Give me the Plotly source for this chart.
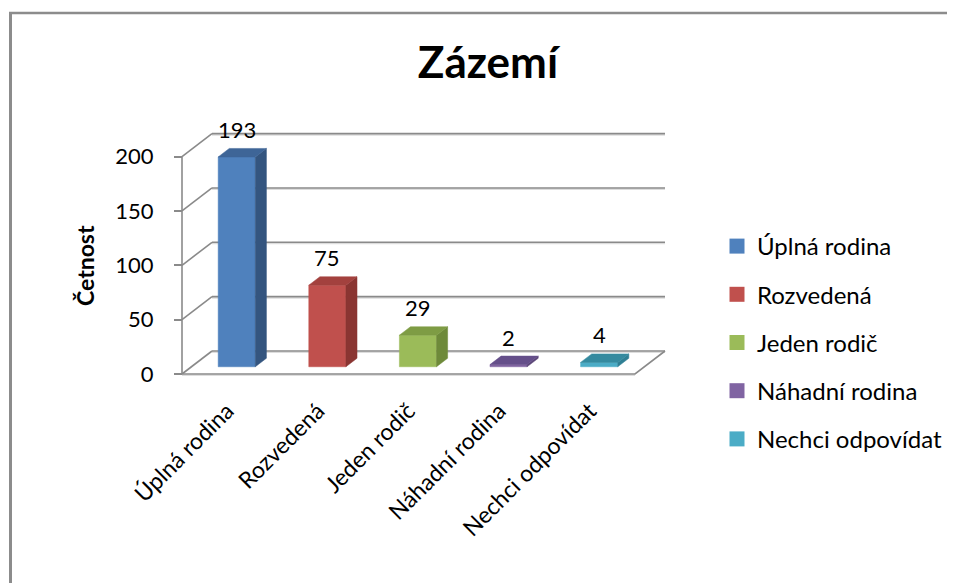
import plotly.graph_objects as go

# ---------------- data ----------------
categories = ["Úplná rodina", "Rozvedená", "Jeden rodič", "Náhadní rodina", "Nechci odpovídat"]
values = [193, 75, 29, 2, 4]
y_ticks = [0, 50, 100, 150, 200]
title_text = "Zázemí"
y_title = "Četnost"

front_colors = ["#4F81BD", "#C0504D", "#9BBB59", "#8064A2", "#4BACC6"]
side_colors = ["#34557F", "#8A3532", "#6E8A3A", "#5A4577", "#2F7F94"]
top_colors = ["#3E6597", "#A3413E", "#7E9C44", "#654F8A", "#358A9F"]

# ---------------- geometry / layout constants (reference pixel coords) ----------------
W, H = 955, 583
OFF = 8                                        # page body margin
PL, PR, PT, PB = 170, 700, 118, 380            # plot area in pixels
X0PX, Y0PX = 182, 374                          # pixel of (x=-0.5, y=0) front corner
PX_PER_X = 90.6
PX_PER_Y = 1.087
DX = 30 / PX_PER_X                              # depth offset in x units
DY = 23 / PX_PER_Y                              # depth offset in y units
BAR_W = 0.41
ZF, ZB = 0.315, 0.685                           # bar front/back depth fraction

xmin = -0.5 - (X0PX - PL) / PX_PER_X
xmax = -0.5 + (PR - X0PX) / PX_PER_X
ymin = -(PB - Y0PX) / PX_PER_Y
ymax = (Y0PX - PT) / PX_PER_Y


def paper_x(px):
    return (px - PL) / (PR - PL)


def paper_y(py):
    return (PB - py) / (PB - PT)


GRID = "#8A8A8A"
n = len(categories)
xl_floor, xr_floor = -0.5, n - 0.5

fig = go.Figure()


def add_line(xs, ys, color=GRID, width=1.6):
    fig.add_trace(go.Scatter(x=xs, y=ys, mode="lines", line=dict(color=color, width=width),
                             hoverinfo="skip", showlegend=False))


# back wall gridlines + left wall diagonals
for t in y_ticks:
    add_line([xl_floor + DX, xr_floor + DX], [t + DY - 1.2, t + DY - 1.2], color="#DDDDDD", width=1.5)
    add_line([xl_floor + DX, xr_floor + DX], [t + DY, t + DY])
    add_line([xl_floor, xl_floor + DX], [t, t + DY])
# front left vertical
add_line([xl_floor, xl_floor], [0, y_ticks[-1]])
# floor outline
add_line([xl_floor, xr_floor], [-1.2, -1.2], color="#DDDDDD", width=1.5)
add_line([xl_floor, xr_floor, xr_floor + DX], [0, 0, DY])

# bars
for i, (v, cf, cs, ct) in enumerate(zip(values, front_colors, side_colors, top_colors)):
    xl = i - BAR_W / 2
    xr = i + BAR_W / 2
    # front face
    fx = [xl + ZF * DX, xr + ZF * DX, xr + ZF * DX, xl + ZF * DX, xl + ZF * DX]
    fy = [ZF * DY, ZF * DY, v + ZF * DY, v + ZF * DY, ZF * DY]
    fig.add_trace(go.Scatter(x=fx, y=fy, fill="toself", fillcolor=cf, mode="lines",
                             line=dict(color=cf, width=0.5), hoverinfo="skip", showlegend=False))
    # side face
    sx = [xr + ZF * DX, xr + ZB * DX, xr + ZB * DX, xr + ZF * DX, xr + ZF * DX]
    sy = [ZF * DY, ZB * DY, v + ZB * DY, v + ZF * DY, ZF * DY]
    fig.add_trace(go.Scatter(x=sx, y=sy, fill="toself", fillcolor=cs, mode="lines",
                             line=dict(color=cs, width=0.5), hoverinfo="skip", showlegend=False))
    # top face
    tx = [xl + ZF * DX, xr + ZF * DX, xr + ZB * DX, xl + ZB * DX, xl + ZF * DX]
    ty = [v + ZF * DY, v + ZF * DY, v + ZB * DY, v + ZB * DY, v + ZF * DY]
    fig.add_trace(go.Scatter(x=tx, y=ty, fill="toself", fillcolor=ct, mode="lines",
                             line=dict(color=ct, width=0.5), hoverinfo="skip", showlegend=False))
    # data label
    fig.add_annotation(x=i + ZF * DX, y=v + ZB * DY, text=str(v), showarrow=False,
                       yshift=19, yanchor="middle", xanchor="center",
                       font=dict(size=22, color="#000000"))

# legend entries
for i, (name, c) in enumerate(zip(categories, front_colors)):
    fig.add_trace(go.Scatter(x=[None], y=[None], mode="markers", name=name,
                             marker=dict(symbol="square", size=15, color=c, line=dict(width=0)),
                             legendgroup="g%d" % i))

# frame decoration
fig.add_shape(type="line", xref="paper", yref="paper",
              x0=paper_x(10.5), x1=paper_x(10.5), y0=paper_y(12), y1=paper_y(H + OFF + 4),
              line=dict(color="#8C8C8C", width=3))
fig.add_shape(type="line", xref="paper", yref="paper",
              x0=paper_x(9), x1=paper_x(W + OFF + 4), y0=paper_y(13), y1=paper_y(13),
              line=dict(color="#8C8C8C", width=2.5))

# y axis title
fig.add_annotation(xref="paper", yref="paper", x=paper_x(85), y=paper_y(266),
                   text="<b>%s</b>" % y_title, textangle=-90, showarrow=False,
                   xanchor="center", yanchor="middle", font=dict(size=23, color="#000000"))

FONT = "Lato, 'Noto Sans', sans-serif"
fig.update_layout(
    width=W, height=H,
    margin=dict(l=PL - OFF, r=W - (PR - OFF), t=PT - OFF, b=H - (PB - OFF), autoexpand=False),
    paper_bgcolor="white", plot_bgcolor="rgba(0,0,0,0)",
    font=dict(family=FONT, size=22, color="#000000"),
    title=dict(text="<b>%s</b>" % title_text, x=(488 - OFF) / W, y=1 - (63 - OFF) / H,
               xanchor="center", yanchor="middle",
               font=dict(size=44, color="#000000", family=FONT)),
    xaxis=dict(range=[xmin, xmax], tickmode="array", tickvals=list(range(n)), ticktext=categories,
               tickangle=-45, showgrid=False, zeroline=False, showline=False, ticks="",
               ticklabelstandoff=12, tickfont=dict(size=23), fixedrange=True),
    yaxis=dict(range=[ymin, ymax], tickmode="array", tickvals=y_ticks, ticks="outside",
               ticklen=8, tickwidth=2, tickcolor=GRID, showgrid=False, zeroline=False,
               showline=False, anchor="free", position=paper_x(X0PX),
               ticklabelstandoff=16, tickfont=dict(size=22), fixedrange=True),
    legend=dict(x=paper_x(717), y=paper_y(224), xanchor="left", yanchor="top",
                font=dict(size=24, color="#000000"), tracegroupgap=14,
                bgcolor="rgba(0,0,0,0)", itemclick=False, itemdoubleclick=False),
    showlegend=True,
)

fig.write_html("out.html")
